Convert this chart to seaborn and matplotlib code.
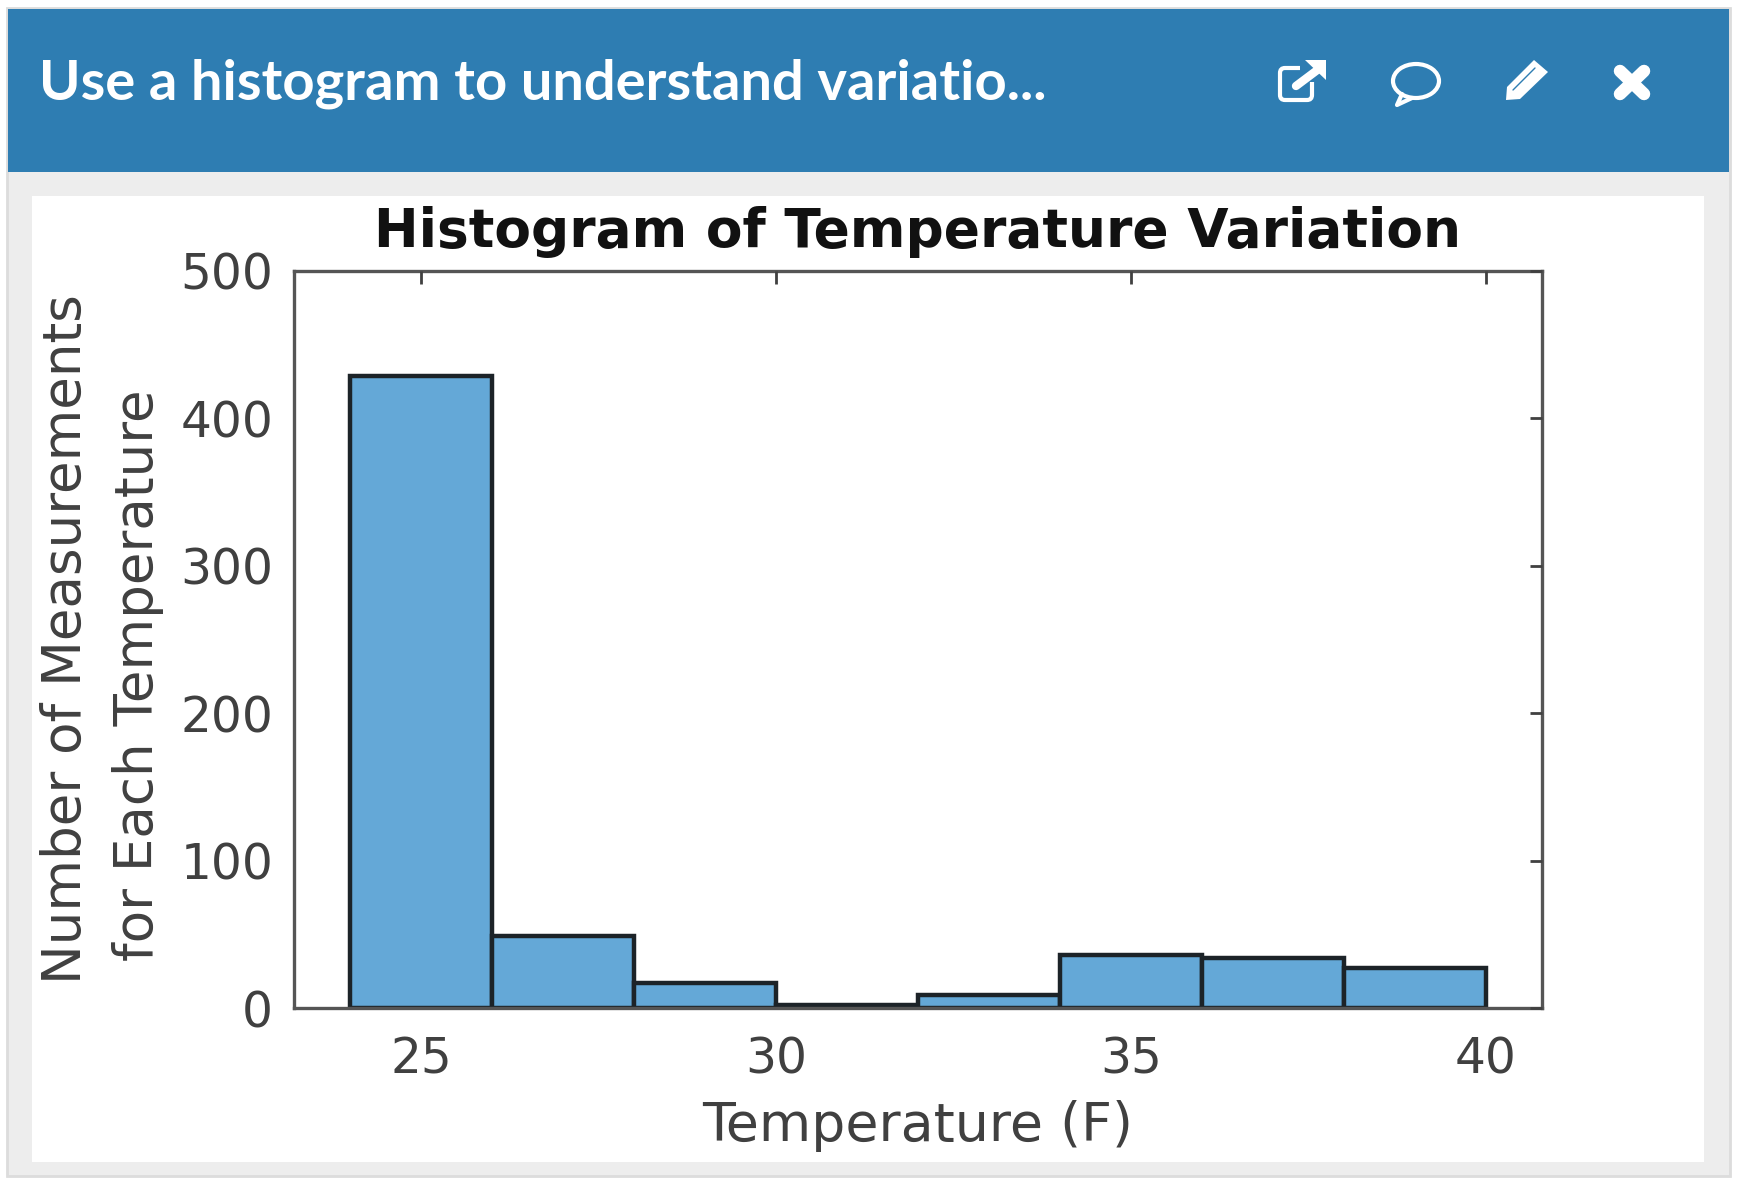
import matplotlib
matplotlib.use('Agg')
import matplotlib.pyplot as plt
import seaborn as sns
from matplotlib.patches import FancyBboxPatch, Rectangle, Ellipse, Polygon

bin_edges = [24, 26, 28, 30, 32, 34, 36, 38, 40]
bin_centers = [25, 27, 29, 31, 33, 35, 37, 39]
counts = [429, 49, 17, 2, 9, 36, 34, 27]
x_ticks = [25, 30, 35, 40]
y_ticks = [0, 100, 200, 300, 400, 500]

header_text = "Use a histogram to understand variatio..."
title_text = "Histogram of Temperature Variation"
xlabel_text = "Temperature (F)"
ylabel_line1 = "Number of Measurements"
ylabel_line2 = "for Each Temperature"

W, H = 1739, 1183
BLUE = '#2e7db2'
PANEL = '#ededed'
BAR = '#64a8d7'
EDGE = '#1c2328'
TXT = '#404040'

sns.set_theme(style='white')
plt.rcParams['font.family'] = ['DejaVu Sans']

fig = plt.figure(figsize=(W / 100, H / 100), dpi=100, facecolor='white')

# page chrome drawn in pixel coordinates
bg = fig.add_axes([0, 0, 1, 1])
bg.set_xlim(0, W)
bg.set_ylim(H, 0)
bg.axis('off')
bg.add_patch(Rectangle((7, 8), 1723, 1168, fc=PANEL, ec='#dcdcdc', lw=2))
bg.add_patch(Rectangle((8, 9), 1721, 163, fc=BLUE, ec='none'))
bg.add_patch(Rectangle((32, 196), 1672, 966, fc='white', ec='none'))
bg.text(39, 84, header_text, color='white', fontsize=40.4, family='Lato', weight='bold', va='center', ha='left')

# popout icon
bg.add_patch(FancyBboxPatch((1280, 68), 32, 32, boxstyle='round,pad=0,rounding_size=5', fc='none', ec='white', lw=3))
bg.add_patch(Rectangle((1300, 58), 30, 24, fc=BLUE, ec='none'))
bg.plot([1296, 1320], [86, 68], color='white', lw=6)
bg.add_patch(Polygon([[1305, 60], [1326, 60], [1326, 80]], fc='white', ec='none'))
# comment icon
bg.add_patch(Ellipse((1416, 81), 46, 34, fc='none', ec='white', lw=3))
bg.plot([1402, 1397, 1412], [94, 105, 98], color='white', lw=3)
# pencil icon
bg.add_patch(Polygon([[1506, 100], [1507, 87], [1534, 60], [1548, 72], [1520, 99]], fc='white', ec='none'))
bg.plot([1513, 1535], [90, 68], color=BLUE, lw=1)
# close icon
bg.plot([1620, 1644], [71, 94], color='white', lw=9)
bg.plot([1644, 1620], [71, 94], color='white', lw=9)

# chart
ax = fig.add_axes([294 / W, 1 - 1008 / H, (1542 - 294) / W, (1008 - 271) / H])
sns.histplot(x=bin_centers, weights=counts, bins=bin_edges, color=BAR, alpha=1,
             edgecolor=EDGE, linewidth=3.2, ax=ax)
ax.set_xlim(23.21, 40.79)
ax.set_ylim(0, 500)
ax.set_xticks(x_ticks)
ax.set_yticks(y_ticks)
ax.tick_params(direction='in', length=9, width=2, color='#404040', top=True, right=True,
               labelsize=35, labelcolor=TXT)
ax.tick_params(axis='x', pad=20)
ax.tick_params(axis='y', pad=15)
for s in ax.spines.values():
    s.set_visible(True)
    s.set_color('#555555')
    s.set_linewidth(2.4)
ax.set_axisbelow(False)
ax.set_xlabel(xlabel_text, fontsize=38.7, color=TXT, labelpad=12)
# the two ylabel lines are not centred on each other in the original
ax.set_ylabel(ylabel_line1, fontsize=38.2, color=TXT)
ax.yaxis.set_label_coords(-0.162, 0.5)
ax.text(-0.104, 0.452, ylabel_line2, transform=ax.transAxes, fontsize=38.2, color=TXT,
        rotation=90, ha='right', va='center')
ax.set_title(title_text, fontsize=38.4, weight='bold', color='#111111', pad=17)

fig.savefig('out.png', dpi=100)
